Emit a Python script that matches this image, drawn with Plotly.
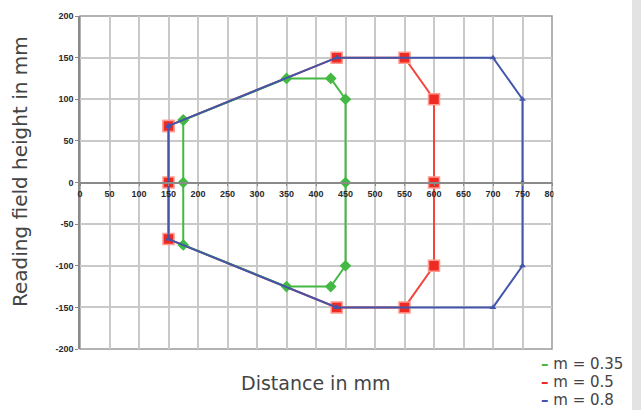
import plotly.graph_objects as go

# ---- data ----
green_x = [175, 350, 425, 450, 450, 450, 425, 350, 175, 175, 175]
green_y = [75, 125, 125, 100, 0, -100, -125, -125, -75, 0, 75]
red_x = [150, 435, 550, 600, 600, 600, 550, 435, 150, 150, 150]
red_y = [68, 150, 150, 100, 0, -100, -150, -150, -68, 0, 68]
blue_x = [150, 435, 700, 750, 750, 750, 700, 435, 150, 150, 150]
blue_y = [68, 150, 150, 100, 0, -100, -150, -150, -68, 0, 68]
series_names = ["m = 0.35", "m = 0.5", "m = 0.8"]
x_ticks = list(range(0, 801, 50))
y_ticks = list(range(-200, 201, 50))

GREEN = "#43b843"
RED = "#ee2a24"
BLUE = "#4255ab"

fig = go.Figure()
fig.add_trace(go.Scatter(
    x=red_x, y=red_y, mode="lines+markers", name=series_names[1],
    line=dict(color="#f2453c", width=2),
    marker=dict(symbol="square", size=11, color=RED, line=dict(color="#ff9a90", width=1.5)),
    showlegend=False))
fig.add_trace(go.Scatter(
    x=green_x, y=green_y, mode="lines+markers", name=series_names[0],
    line=dict(color=GREEN, width=2),
    marker=dict(symbol="diamond", size=9, color=GREEN),
    showlegend=False))
fig.add_trace(go.Scatter(
    x=blue_x, y=blue_y, mode="lines+markers", name=series_names[2],
    line=dict(color=BLUE, width=2),
    marker=dict(symbol="triangle-up", size=6, color=BLUE),
    showlegend=False))

tickfont = dict(family="Liberation Sans, Arial", size=9, color="#2a2a2a", weight="bold")
fig.update_xaxes(
    range=[0, 800], tickvals=x_ticks, ticktext=[str(v) for v in x_ticks],
    anchor="free", position=0.5,
    showgrid=True, gridcolor="#c9c9c9", gridwidth=1.5,
    showline=True, linecolor="#8a8a8a", linewidth=1.5,
    ticks="outside", ticklen=3, tickcolor="#8a8a8a",
    tickfont=tickfont, zeroline=False, fixedrange=True)
fig.update_yaxes(
    range=[-200, 200], tickvals=y_ticks, ticktext=[str(v) for v in y_ticks],
    showgrid=True, gridcolor="#c9c9c9", gridwidth=1.5,
    showline=True, linecolor="#8a8a8a", linewidth=1.5,
    ticks="outside", ticklen=3, tickcolor="#8a8a8a",
    tickfont=tickfont, zeroline=False, fixedrange=True)

W, H = 641, 410
ml, mr, mt, mb = 80, 89, 16, 61
pw, ph = W - ml - mr, H - mt - mb

def px_x(p):
    return (p - ml) / pw

def px_y(p):
    return (H - mb - p) / ph

shapes = [
    # plot frame
    dict(type="rect", xref="paper", yref="paper", x0=0, x1=1, y0=0, y1=1,
         line=dict(color="#9a9a9a", width=1.5), layer="below"),
    # clip of the last tick label (reference image is cropped there)
    dict(type="rect", xref="paper", yref="paper", x0=px_x(553.5), x1=px_x(575),
         y0=px_y(202), y1=px_y(186), fillcolor="white", line=dict(width=0), layer="above"),
    # gray page strip at right
    dict(type="rect", xref="paper", yref="paper", x0=px_x(632), x1=px_x(641),
         y0=px_y(410), y1=px_y(0), fillcolor="#e3e3e3", line=dict(width=0), layer="above"),
]

title_font = dict(family="DejaVu Sans", size=19, color="#444")
annotations = [
    dict(text="Distance in mm", xref="paper", yref="paper", x=px_x(316), y=px_y(383),
         showarrow=False, font=title_font, xanchor="center", yanchor="middle"),
    dict(text="Reading field height in mm", xref="paper", yref="paper", x=px_x(20), y=px_y(172),
         showarrow=False, font=dict(family="DejaVu Sans", size=20, color="#444"),
         textangle=-90, xanchor="center", yanchor="middle"),
]
leg_colors = [GREEN, RED, BLUE]
leg_y = [364, 382, 400]
for name, col, yy in zip(series_names, leg_colors, leg_y):
    annotations.append(dict(
        text=f"<span style='color:{col}'><b>–</b></span> {name}",
        xref="paper", yref="paper", x=px_x(539), y=px_y(yy),
        showarrow=False, xanchor="left", yanchor="middle",
        font=dict(family="DejaVu Sans", size=15, color="#444")))

fig.update_layout(
    width=W, height=H,
    margin=dict(l=ml, r=mr, t=mt, b=mb),
    paper_bgcolor="white", plot_bgcolor="white",
    shapes=shapes, annotations=annotations, showlegend=False)

fig.write_html("out.html", config={"displayModeBar": False},
               post_script="document.body.style.margin='0';document.body.style.overflow='hidden';")
